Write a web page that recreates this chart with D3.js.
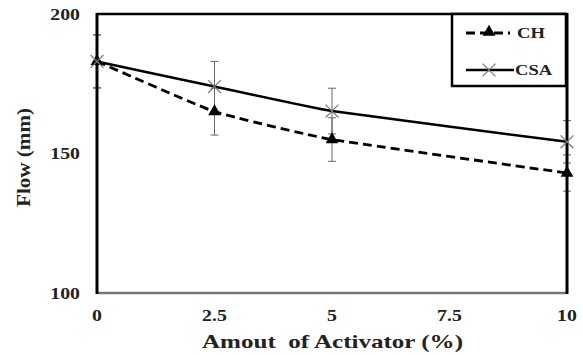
<!DOCTYPE html>
<html>
<head>
<meta charset="utf-8">
<script src="https://cdn.jsdelivr.net/npm/d3@7"></script>
<style>
  body { margin: 0; background: #fff; }
</style>
</head>
<body>
<div id="chart"></div>
<script>
// data
const activator = [0, 2.5, 5, 10];
const chFlow = [183, 165, 155, 143];
const chErr = [9.5, 8.4, 7.8, 6.5];
const csaFlow = [183, 174, 165.2, 154.2];
const csaErr = [9.5, 9, 8.2, 7.6];
const xTicks = [0, 2.5, 5, 7.5, 10];
const yTicks = [100, 150, 200];

const width = 583, height = 355;
const margin = {top: 14, right: 16, bottom: 62, left: 97};
const serif = "'Liberation Serif', 'Times New Roman', 'DejaVu Serif', serif";
const stretch = 1.2; // the source picture is a bit wider than tall

const svg = d3.select('#chart')
    .append('svg')
    .attr('width', width)
    .attr('height', height)
    .attr('font-family', serif)
    .attr('font-weight', 'bold');

const x = d3.scaleLinear().domain([0, 10]).range([margin.left, width - margin.right]);
const y = d3.scaleLinear().domain([100, 200]).range([height - margin.bottom, margin.top]);

// tick labels
svg.append('g')
    .selectAll('text')
    .data(yTicks)
    .join('text')
    .attr('transform', d => `translate(${margin.left - 17},${y(d)}) scale(${stretch},1)`)
    .attr('dy', '0.35em')
    .attr('text-anchor', 'end')
    .attr('fill', '#222')
    .style('font-size', '16.5px')
    .text(d => d);

svg.append('g')
    .selectAll('text')
    .data(xTicks)
    .join('text')
    .attr('transform', d => `translate(${x(d)},${y(100) + 22}) scale(${stretch},1)`)
    .attr('dy', '0.35em')
    .attr('text-anchor', 'middle')
    .attr('fill', '#222')
    .style('font-size', '16.5px')
    .text(d => d);

// axis titles
svg.append('text')
    .attr('x', 202)
    .attr('y', 348)
    .attr('textLength', 261)
    .attr('lengthAdjust', 'spacingAndGlyphs')
    .attr('fill', '#222')
    .style('font-size', '19.5px')
    .text('Amout\u00a0 of Activator (%)');

svg.append('text')
    .attr('transform', 'translate(30,207) rotate(-90)')
    .attr('textLength', 99)
    .attr('lengthAdjust', 'spacingAndGlyphs')
    .attr('fill', '#222')
    .style('font-size', '18.5px')
    .text('Flow (mm)');

// error bars
const errData = activator.flatMap((a, i) => [
    {x: a, v: chFlow[i], e: chErr[i]},
    {x: a, v: csaFlow[i], e: csaErr[i]}
]);
const eb = svg.append('g').attr('stroke', '#666').attr('stroke-width', 1);
eb.selectAll('line.bar')
    .data(errData)
    .join('line')
    .attr('class', 'bar')
    .attr('x1', d => x(d.x)).attr('x2', d => x(d.x))
    .attr('y1', d => y(d.v - d.e)).attr('y2', d => y(d.v + d.e));
eb.selectAll('line.capt')
    .data(errData)
    .join('line')
    .attr('class', 'capt')
    .attr('x1', d => x(d.x) - 4).attr('x2', d => x(d.x) + 4)
    .attr('y1', d => y(d.v + d.e)).attr('y2', d => y(d.v + d.e));
eb.selectAll('line.capb')
    .data(errData)
    .join('line')
    .attr('class', 'capb')
    .attr('x1', d => x(d.x) - 4).attr('x2', d => x(d.x) + 4)
    .attr('y1', d => y(d.v - d.e)).attr('y2', d => y(d.v - d.e));

// lines, lightly smoothed like the spreadsheet original
const flowLine = d3.line().x(d => x(d[0])).y(d => y(d[1])).curve(d3.curveCardinal.tension(0.65));
svg.append('path')
    .datum(activator.map((a, i) => [a, csaFlow[i]]))
    .attr('d', flowLine)
    .attr('fill', 'none')
    .attr('stroke', '#000')
    .attr('stroke-width', 2.5);
svg.append('path')
    .datum(activator.map((a, i) => [a, chFlow[i]]))
    .attr('d', flowLine)
    .attr('fill', 'none')
    .attr('stroke', '#000')
    .attr('stroke-width', 2.8)
    .attr('stroke-dasharray', '9,5');

// frame
svg.append('line')
    .attr('x1', x(0)).attr('x2', x(10)).attr('y1', y(100)).attr('y2', y(100))
    .attr('stroke', '#777').attr('stroke-width', 2.5);
svg.append('line')
    .attr('x1', x(0)).attr('x2', x(10)).attr('y1', y(200)).attr('y2', y(200))
    .attr('stroke', '#000').attr('stroke-width', 2.5);
svg.append('line')
    .attr('x1', x(0)).attr('x2', x(0)).attr('y1', y(200) - 1).attr('y2', y(100) + 1)
    .attr('stroke', '#000').attr('stroke-width', 3);
svg.append('line')
    .attr('x1', x(10)).attr('x2', x(10)).attr('y1', y(200) - 1).attr('y2', y(100) + 1)
    .attr('stroke', '#000').attr('stroke-width', 3);

// markers
const tri = d3.symbol().type(d3.symbolTriangle).size(70);
svg.append('g')
    .selectAll('path')
    .data(activator.map((a, i) => [a, chFlow[i]]))
    .join('path')
    .attr('d', tri)
    .attr('transform', d => `translate(${x(d[0])},${y(d[1])})`)
    .attr('fill', '#000');

const cross = d3.symbol().type(d3.symbolX).size(110);
svg.append('g')
    .selectAll('path')
    .data(activator.map((a, i) => [a, csaFlow[i]]))
    .join('path')
    .attr('d', cross)
    .attr('transform', d => `translate(${x(d[0])},${y(d[1])})`)
    .attr('fill', 'none')
    .attr('stroke', '#777')
    .attr('stroke-width', 1.2);

// legend
const lg = svg.append('g');
lg.append('rect')
    .attr('x', 452).attr('y', 14).attr('width', 114).attr('height', 72)
    .attr('fill', '#fff').attr('stroke', '#000').attr('stroke-width', 2.5);
lg.append('line')
    .attr('x1', 466).attr('x2', 510).attr('y1', 33).attr('y2', 33)
    .attr('stroke', '#000').attr('stroke-width', 2.8).attr('stroke-dasharray', '9,5');
lg.append('path')
    .attr('d', tri)
    .attr('transform', 'translate(489,32)')
    .attr('fill', '#000');
lg.append('text')
    .attr('transform', `translate(517,33) scale(${stretch},1)`)
    .attr('dy', '0.35em')
    .attr('fill', '#222')
    .style('font-size', '15.5px').text('CH');
lg.append('line')
    .attr('x1', 466).attr('x2', 514).attr('y1', 70).attr('y2', 70)
    .attr('stroke', '#000').attr('stroke-width', 2.5);
lg.append('path')
    .attr('d', cross)
    .attr('transform', 'translate(489,70)')
    .attr('fill', 'none').attr('stroke', '#777').attr('stroke-width', 1.2);
lg.append('text')
    .attr('transform', `translate(515,70) scale(${stretch},1)`)
    .attr('dy', '0.35em')
    .attr('fill', '#222')
    .style('font-size', '15.5px').text('CSA');
</script>
</body>
</html>
